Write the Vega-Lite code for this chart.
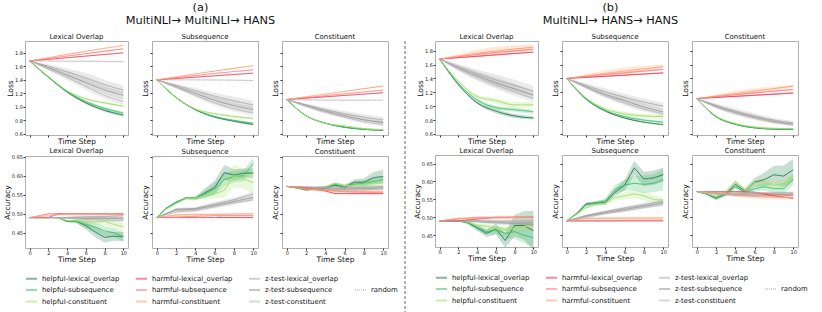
{
"$schema":"https://vega.github.io/schema/vega-lite/v6.json",
"padding":{"left":2,"right":2,"top":2,"bottom":0},
"spacing":6,
"resolve":{"legend":{"color":"independent","strokeDash":"independent"}},
"datasets":{
"nm":[{"s":"h1","n":"helpful-lexical_overlap"},{"s":"h2","n":"helpful-subsequence"},{"s":"h3","n":"helpful-constituent"},{"s":"x1","n":"harmful-lexical_overlap"},{"s":"x2","n":"harmful-subsequence"},{"s":"x3","n":"harmful-constituent"},{"s":"z1","n":"z-test-lexical_overlap"},{"s":"z2","n":"z-test-subsequence"},{"s":"z3","n":"z-test-constituent"},{"s":"r","n":"random"}],
"aL1":[
{"s":"h1","t":0,"v":1.68,"e":0},{"s":"h1","t":2,"v":1.44,"e":0.005},{"s":"h1","t":4,"v":1.22,"e":0.01},{"s":"h1","t":6,"v":1.06,"e":0.015},{"s":"h1","t":8,"v":0.95,"e":0.02},{"s":"h1","t":10,"v":0.88,"e":0.02},
{"s":"h2","t":0,"v":1.68,"e":0},{"s":"h2","t":2,"v":1.44,"e":0.005},{"s":"h2","t":4,"v":1.23,"e":0.01},{"s":"h2","t":6,"v":1.08,"e":0.015},{"s":"h2","t":8,"v":0.98,"e":0.02},{"s":"h2","t":10,"v":0.91,"e":0.02},
{"s":"h3","t":0,"v":1.68,"e":0},{"s":"h3","t":2,"v":1.45,"e":0.005},{"s":"h3","t":4,"v":1.24,"e":0.01},{"s":"h3","t":6,"v":1.12,"e":0.015},{"s":"h3","t":8,"v":1.06,"e":0.02},{"s":"h3","t":10,"v":1.01,"e":0.02},
{"s":"z1","t":0,"v":1.68,"e":0},{"s":"z1","t":2,"v":1.60,"e":0.03},{"s":"z1","t":4,"v":1.52,"e":0.05},{"s":"z1","t":6,"v":1.43,"e":0.07},{"s":"z1","t":8,"v":1.33,"e":0.07},{"s":"z1","t":10,"v":1.25,"e":0.07},
{"s":"z2","t":0,"v":1.68,"e":0},{"s":"z2","t":2,"v":1.58,"e":0.03},{"s":"z2","t":4,"v":1.47,"e":0.05},{"s":"z2","t":6,"v":1.36,"e":0.06},{"s":"z2","t":8,"v":1.25,"e":0.06},{"s":"z2","t":10,"v":1.17,"e":0.06},
{"s":"z3","t":0,"v":1.68,"e":0},{"s":"z3","t":2,"v":1.56,"e":0.02},{"s":"z3","t":4,"v":1.44,"e":0.04},{"s":"z3","t":6,"v":1.30,"e":0.05},{"s":"z3","t":8,"v":1.17,"e":0.05},{"s":"z3","t":10,"v":1.08,"e":0.05},
{"s":"x1","t":0,"v":1.68},{"s":"x1","t":5,"v":1.74},{"s":"x1","t":10,"v":1.80},
{"s":"x2","t":0,"v":1.68},{"s":"x2","t":5,"v":1.77},{"s":"x2","t":10,"v":1.86},
{"s":"x3","t":0,"v":1.68},{"s":"x3","t":5,"v":1.80},{"s":"x3","t":10,"v":1.91},
{"s":"r","t":0,"v":1.68,"e":0},{"s":"r","t":5,"v":1.675,"e":0.01},{"s":"r","t":10,"v":1.67,"e":0.01}],
"aL2":[
{"s":"h1","t":0,"v":1.40,"e":0},{"s":"h1","t":2,"v":1.14,"e":0.005},{"s":"h1","t":4,"v":0.96,"e":0.01},{"s":"h1","t":6,"v":0.85,"e":0.01},{"s":"h1","t":8,"v":0.79,"e":0.015},{"s":"h1","t":10,"v":0.74,"e":0.015},
{"s":"h2","t":0,"v":1.40,"e":0},{"s":"h2","t":2,"v":1.14,"e":0.005},{"s":"h2","t":4,"v":0.96,"e":0.01},{"s":"h2","t":6,"v":0.86,"e":0.01},{"s":"h2","t":8,"v":0.80,"e":0.015},{"s":"h2","t":10,"v":0.76,"e":0.015},
{"s":"h3","t":0,"v":1.40,"e":0},{"s":"h3","t":2,"v":1.14,"e":0.005},{"s":"h3","t":4,"v":0.97,"e":0.01},{"s":"h3","t":6,"v":0.90,"e":0.015},{"s":"h3","t":8,"v":0.86,"e":0.015},{"s":"h3","t":10,"v":0.83,"e":0.015},
{"s":"z1","t":0,"v":1.40,"e":0},{"s":"z1","t":2,"v":1.32,"e":0.02},{"s":"z1","t":4,"v":1.24,"e":0.04},{"s":"z1","t":6,"v":1.16,"e":0.05},{"s":"z1","t":8,"v":1.09,"e":0.06},{"s":"z1","t":10,"v":1.03,"e":0.06},
{"s":"z2","t":0,"v":1.40,"e":0},{"s":"z2","t":2,"v":1.30,"e":0.02},{"s":"z2","t":4,"v":1.20,"e":0.04},{"s":"z2","t":6,"v":1.10,"e":0.05},{"s":"z2","t":8,"v":1.02,"e":0.05},{"s":"z2","t":10,"v":0.96,"e":0.05},
{"s":"z3","t":0,"v":1.40,"e":0},{"s":"z3","t":2,"v":1.29,"e":0.02},{"s":"z3","t":4,"v":1.17,"e":0.03},{"s":"z3","t":6,"v":1.06,"e":0.04},{"s":"z3","t":8,"v":0.97,"e":0.04},{"s":"z3","t":10,"v":0.91,"e":0.04},
{"s":"x1","t":0,"v":1.40},{"s":"x1","t":5,"v":1.45},{"s":"x1","t":10,"v":1.50},
{"s":"x2","t":0,"v":1.40},{"s":"x2","t":5,"v":1.48},{"s":"x2","t":10,"v":1.55},
{"s":"x3","t":0,"v":1.40},{"s":"x3","t":5,"v":1.51},{"s":"x3","t":10,"v":1.61},
{"s":"r","t":0,"v":1.40,"e":0},{"s":"r","t":5,"v":1.40,"e":0.01},{"s":"r","t":10,"v":1.39,"e":0.01}],
"aL3":[
{"s":"h1","t":0,"v":1.11,"e":0},{"s":"h1","t":2,"v":0.87,"e":0.005},{"s":"h1","t":4,"v":0.76,"e":0.005},{"s":"h1","t":6,"v":0.70,"e":0.005},{"s":"h1","t":8,"v":0.67,"e":0.01},{"s":"h1","t":10,"v":0.655,"e":0.01},
{"s":"h2","t":0,"v":1.11,"e":0},{"s":"h2","t":2,"v":0.87,"e":0.005},{"s":"h2","t":4,"v":0.76,"e":0.005},{"s":"h2","t":6,"v":0.70,"e":0.005},{"s":"h2","t":8,"v":0.67,"e":0.01},{"s":"h2","t":10,"v":0.66,"e":0.01},
{"s":"h3","t":0,"v":1.11,"e":0},{"s":"h3","t":2,"v":0.87,"e":0.005},{"s":"h3","t":4,"v":0.76,"e":0.005},{"s":"h3","t":6,"v":0.72,"e":0.01},{"s":"h3","t":8,"v":0.68,"e":0.01},{"s":"h3","t":10,"v":0.665,"e":0.01},
{"s":"z1","t":0,"v":1.11,"e":0},{"s":"z1","t":2,"v":1.03,"e":0.02},{"s":"z1","t":4,"v":0.96,"e":0.03},{"s":"z1","t":6,"v":0.90,"e":0.04},{"s":"z1","t":8,"v":0.85,"e":0.04},{"s":"z1","t":10,"v":0.81,"e":0.04},
{"s":"z2","t":0,"v":1.11,"e":0},{"s":"z2","t":2,"v":1.02,"e":0.02},{"s":"z2","t":4,"v":0.94,"e":0.03},{"s":"z2","t":6,"v":0.87,"e":0.03},{"s":"z2","t":8,"v":0.81,"e":0.03},{"s":"z2","t":10,"v":0.77,"e":0.03},
{"s":"z3","t":0,"v":1.11,"e":0},{"s":"z3","t":2,"v":1.01,"e":0.02},{"s":"z3","t":4,"v":0.92,"e":0.02},{"s":"z3","t":6,"v":0.85,"e":0.03},{"s":"z3","t":8,"v":0.78,"e":0.03},{"s":"z3","t":10,"v":0.74,"e":0.03},
{"s":"x1","t":0,"v":1.11},{"s":"x1","t":5,"v":1.16},{"s":"x1","t":10,"v":1.21},
{"s":"x2","t":0,"v":1.11},{"s":"x2","t":5,"v":1.18},{"s":"x2","t":10,"v":1.25},
{"s":"x3","t":0,"v":1.11},{"s":"x3","t":5,"v":1.21},{"s":"x3","t":10,"v":1.31},
{"s":"r","t":0,"v":1.11,"e":0},{"s":"r","t":5,"v":1.10,"e":0.01},{"s":"r","t":10,"v":1.10,"e":0.01}],
"bL1":[
{"s":"h1","t":0,"v":1.68,"e":0},{"s":"h1","t":2,"v":1.31,"e":0.01},{"s":"h1","t":4,"v":1.05,"e":0.02},{"s":"h1","t":6,"v":0.93,"e":0.03},{"s":"h1","t":8,"v":0.86,"e":0.03},{"s":"h1","t":10,"v":0.83,"e":0.02},
{"s":"h2","t":0,"v":1.68,"e":0},{"s":"h2","t":2,"v":1.33,"e":0.01},{"s":"h2","t":4,"v":1.09,"e":0.02},{"s":"h2","t":6,"v":0.98,"e":0.03},{"s":"h2","t":8,"v":0.95,"e":0.03},{"s":"h2","t":10,"v":0.92,"e":0.03},
{"s":"h3","t":0,"v":1.68,"e":0},{"s":"h3","t":2,"v":1.36,"e":0.01},{"s":"h3","t":4,"v":1.14,"e":0.03},{"s":"h3","t":6,"v":1.08,"e":0.04},{"s":"h3","t":8,"v":1.02,"e":0.04},{"s":"h3","t":10,"v":1.02,"e":0.04},
{"s":"z1","t":0,"v":1.68,"e":0},{"s":"z1","t":2,"v":1.57,"e":0.04},{"s":"z1","t":4,"v":1.47,"e":0.06},{"s":"z1","t":6,"v":1.38,"e":0.08},{"s":"z1","t":8,"v":1.30,"e":0.08},{"s":"z1","t":10,"v":1.22,"e":0.07},
{"s":"z2","t":0,"v":1.68,"e":0},{"s":"z2","t":2,"v":1.55,"e":0.04},{"s":"z2","t":4,"v":1.44,"e":0.06},{"s":"z2","t":6,"v":1.34,"e":0.07},{"s":"z2","t":8,"v":1.25,"e":0.07},{"s":"z2","t":10,"v":1.16,"e":0.06},
{"s":"z3","t":0,"v":1.68,"e":0},{"s":"z3","t":2,"v":1.54,"e":0.03},{"s":"z3","t":4,"v":1.42,"e":0.05},{"s":"z3","t":6,"v":1.31,"e":0.06},{"s":"z3","t":8,"v":1.21,"e":0.06},{"s":"z3","t":10,"v":1.11,"e":0.05},
{"s":"x1","t":0,"v":1.68,"e":0},{"s":"x1","t":5,"v":1.73,"e":0.01},{"s":"x1","t":10,"v":1.78,"e":0.01},
{"s":"x2","t":0,"v":1.68,"e":0},{"s":"x2","t":5,"v":1.76,"e":0.01},{"s":"x2","t":10,"v":1.82,"e":0.01},
{"s":"x3","t":0,"v":1.68,"e":0},{"s":"x3","t":5,"v":1.78,"e":0.06},{"s":"x3","t":10,"v":1.85,"e":0.04}],
"bL2":[
{"s":"h1","t":0,"v":1.40,"e":0},{"s":"h1","t":2,"v":1.10,"e":0.005},{"s":"h1","t":4,"v":0.93,"e":0.01},{"s":"h1","t":6,"v":0.83,"e":0.01},{"s":"h1","t":8,"v":0.77,"e":0.01},{"s":"h1","t":10,"v":0.735,"e":0.01},
{"s":"h2","t":0,"v":1.40,"e":0},{"s":"h2","t":2,"v":1.11,"e":0.005},{"s":"h2","t":4,"v":0.94,"e":0.01},{"s":"h2","t":6,"v":0.85,"e":0.015},{"s":"h2","t":8,"v":0.80,"e":0.02},{"s":"h2","t":10,"v":0.77,"e":0.02},
{"s":"h3","t":0,"v":1.40,"e":0},{"s":"h3","t":2,"v":1.12,"e":0.01},{"s":"h3","t":4,"v":0.96,"e":0.02},{"s":"h3","t":6,"v":0.89,"e":0.03},{"s":"h3","t":8,"v":0.86,"e":0.03},{"s":"h3","t":10,"v":0.85,"e":0.03},
{"s":"z1","t":0,"v":1.40,"e":0},{"s":"z1","t":2,"v":1.30,"e":0.03},{"s":"z1","t":4,"v":1.21,"e":0.05},{"s":"z1","t":6,"v":1.13,"e":0.05},{"s":"z1","t":8,"v":1.06,"e":0.05},{"s":"z1","t":10,"v":1.00,"e":0.05},
{"s":"z2","t":0,"v":1.40,"e":0},{"s":"z2","t":2,"v":1.28,"e":0.03},{"s":"z2","t":4,"v":1.17,"e":0.04},{"s":"z2","t":6,"v":1.08,"e":0.05},{"s":"z2","t":8,"v":0.99,"e":0.05},{"s":"z2","t":10,"v":0.92,"e":0.04},
{"s":"z3","t":0,"v":1.40,"e":0},{"s":"z3","t":2,"v":1.27,"e":0.02},{"s":"z3","t":4,"v":1.15,"e":0.03},{"s":"z3","t":6,"v":1.05,"e":0.04},{"s":"z3","t":8,"v":0.96,"e":0.04},{"s":"z3","t":10,"v":0.89,"e":0.03},
{"s":"x1","t":0,"v":1.40,"e":0},{"s":"x1","t":5,"v":1.44,"e":0.01},{"s":"x1","t":10,"v":1.48,"e":0.01},
{"s":"x2","t":0,"v":1.40,"e":0},{"s":"x2","t":5,"v":1.47,"e":0.01},{"s":"x2","t":10,"v":1.53,"e":0.01},
{"s":"x3","t":0,"v":1.40,"e":0},{"s":"x3","t":5,"v":1.49,"e":0.05},{"s":"x3","t":10,"v":1.57,"e":0.03}],
"bL3":[
{"s":"h1","t":0,"v":1.11,"e":0},{"s":"h1","t":2,"v":0.85,"e":0.005},{"s":"h1","t":4,"v":0.74,"e":0.01},{"s":"h1","t":6,"v":0.69,"e":0.01},{"s":"h1","t":8,"v":0.67,"e":0.01},{"s":"h1","t":10,"v":0.665,"e":0.01},
{"s":"h2","t":0,"v":1.11,"e":0},{"s":"h2","t":2,"v":0.85,"e":0.005},{"s":"h2","t":4,"v":0.74,"e":0.01},{"s":"h2","t":6,"v":0.69,"e":0.01},{"s":"h2","t":8,"v":0.675,"e":0.01},{"s":"h2","t":10,"v":0.67,"e":0.01},
{"s":"h3","t":0,"v":1.11,"e":0},{"s":"h3","t":2,"v":0.86,"e":0.005},{"s":"h3","t":4,"v":0.75,"e":0.01},{"s":"h3","t":6,"v":0.70,"e":0.015},{"s":"h3","t":8,"v":0.68,"e":0.015},{"s":"h3","t":10,"v":0.675,"e":0.015},
{"s":"z1","t":0,"v":1.11,"e":0},{"s":"z1","t":2,"v":1.01,"e":0.03},{"s":"z1","t":4,"v":0.93,"e":0.04},{"s":"z1","t":6,"v":0.86,"e":0.04},{"s":"z1","t":8,"v":0.80,"e":0.03},{"s":"z1","t":10,"v":0.76,"e":0.03},
{"s":"z2","t":0,"v":1.11,"e":0},{"s":"z2","t":2,"v":1.00,"e":0.03},{"s":"z2","t":4,"v":0.91,"e":0.03},{"s":"z2","t":6,"v":0.84,"e":0.03},{"s":"z2","t":8,"v":0.78,"e":0.03},{"s":"z2","t":10,"v":0.74,"e":0.02},
{"s":"z3","t":0,"v":1.11,"e":0},{"s":"z3","t":2,"v":0.99,"e":0.02},{"s":"z3","t":4,"v":0.90,"e":0.03},{"s":"z3","t":6,"v":0.83,"e":0.03},{"s":"z3","t":8,"v":0.77,"e":0.02},{"s":"z3","t":10,"v":0.73,"e":0.02},
{"s":"x1","t":0,"v":1.11,"e":0},{"s":"x1","t":5,"v":1.15,"e":0.01},{"s":"x1","t":10,"v":1.19,"e":0.01},
{"s":"x2","t":0,"v":1.11,"e":0},{"s":"x2","t":5,"v":1.18,"e":0.01},{"s":"x2","t":10,"v":1.24,"e":0.01},
{"s":"x3","t":0,"v":1.11,"e":0},{"s":"x3","t":5,"v":1.20,"e":0.04},{"s":"x3","t":10,"v":1.29,"e":0.02}],
"aA1":[
{"s":"h1","t":0,"v":0.49,"e":0},{"s":"h1","t":1,"v":0.49,"e":0},{"s":"h1","t":2,"v":0.49,"e":0},{"s":"h1","t":3,"v":0.49,"e":0},{"s":"h1","t":4,"v":0.48,"e":0.002},{"s":"h1","t":5,"v":0.48,"e":0.004},{"s":"h1","t":6,"v":0.469,"e":0.01},{"s":"h1","t":7,"v":0.452,"e":0.014},{"s":"h1","t":8,"v":0.438,"e":0.014},{"s":"h1","t":9,"v":0.441,"e":0.012},{"s":"h1","t":10,"v":0.44,"e":0.012},
{"s":"h2","t":0,"v":0.49,"e":0},{"s":"h2","t":1,"v":0.49,"e":0},{"s":"h2","t":2,"v":0.49,"e":0},{"s":"h2","t":3,"v":0.49,"e":0},{"s":"h2","t":4,"v":0.48,"e":0.002},{"s":"h2","t":5,"v":0.48,"e":0.004},{"s":"h2","t":6,"v":0.472,"e":0.01},{"s":"h2","t":7,"v":0.465,"e":0.012},{"s":"h2","t":8,"v":0.455,"e":0.012},{"s":"h2","t":9,"v":0.45,"e":0.012},{"s":"h2","t":10,"v":0.44,"e":0.012},
{"s":"h3","t":0,"v":0.49,"e":0},{"s":"h3","t":1,"v":0.49,"e":0},{"s":"h3","t":2,"v":0.49,"e":0},{"s":"h3","t":3,"v":0.49,"e":0},{"s":"h3","t":4,"v":0.482,"e":0.002},{"s":"h3","t":5,"v":0.482,"e":0.003},{"s":"h3","t":6,"v":0.48,"e":0.006},{"s":"h3","t":7,"v":0.478,"e":0.008},{"s":"h3","t":8,"v":0.48,"e":0.01},{"s":"h3","t":9,"v":0.472,"e":0.01},{"s":"h3","t":10,"v":0.466,"e":0.01},
{"s":"z1","t":0,"v":0.49,"e":0},{"s":"z1","t":2,"v":0.49,"e":0.001},{"s":"z1","t":4,"v":0.49,"e":0.002},{"s":"z1","t":6,"v":0.492,"e":0.005},{"s":"z1","t":8,"v":0.493,"e":0.006},{"s":"z1","t":10,"v":0.495,"e":0.006},
{"s":"z2","t":0,"v":0.49,"e":0},{"s":"z2","t":2,"v":0.49,"e":0.001},{"s":"z2","t":4,"v":0.49,"e":0.002},{"s":"z2","t":6,"v":0.488,"e":0.004},{"s":"z2","t":8,"v":0.488,"e":0.005},{"s":"z2","t":10,"v":0.487,"e":0.005},
{"s":"z3","t":0,"v":0.49,"e":0},{"s":"z3","t":2,"v":0.49,"e":0.001},{"s":"z3","t":4,"v":0.488,"e":0.002},{"s":"z3","t":6,"v":0.485,"e":0.004},{"s":"z3","t":8,"v":0.483,"e":0.004},{"s":"z3","t":10,"v":0.482,"e":0.004},
{"s":"x1","t":0,"v":0.49},{"s":"x1","t":2,"v":0.49},{"s":"x1","t":3,"v":0.50},{"s":"x1","t":10,"v":0.50},
{"s":"x2","t":0,"v":0.49,"e":0},{"s":"x2","t":2,"v":0.50,"e":0.002},{"s":"x2","t":10,"v":0.50,"e":0.002},
{"s":"x3","t":0,"v":0.49},{"s":"x3","t":2,"v":0.495},{"s":"x3","t":4,"v":0.50},{"s":"x3","t":10,"v":0.50},
{"s":"r","t":0,"v":0.49},{"s":"r","t":10,"v":0.49}],
"aA2":[
{"s":"h1","t":0,"v":0.49,"e":0},{"s":"h1","t":1,"v":0.515,"e":0.002},{"s":"h1","t":2,"v":0.53,"e":0.003},{"s":"h1","t":3,"v":0.541,"e":0.003},{"s":"h1","t":4,"v":0.541,"e":0.004},{"s":"h1","t":5,"v":0.555,"e":0.012},{"s":"h1","t":6,"v":0.569,"e":0.018},{"s":"h1","t":7,"v":0.608,"e":0.02},{"s":"h1","t":8,"v":0.602,"e":0.015},{"s":"h1","t":9,"v":0.607,"e":0.012},{"s":"h1","t":10,"v":0.607,"e":0.012},
{"s":"h2","t":0,"v":0.49,"e":0},{"s":"h2","t":1,"v":0.515,"e":0.002},{"s":"h2","t":2,"v":0.53,"e":0.003},{"s":"h2","t":3,"v":0.541,"e":0.003},{"s":"h2","t":4,"v":0.541,"e":0.004},{"s":"h2","t":5,"v":0.552,"e":0.01},{"s":"h2","t":6,"v":0.565,"e":0.015},{"s":"h2","t":7,"v":0.59,"e":0.018},{"s":"h2","t":8,"v":0.598,"e":0.015},{"s":"h2","t":9,"v":0.60,"e":0.015},{"s":"h2","t":10,"v":0.632,"e":0.015},
{"s":"h3","t":0,"v":0.49,"e":0},{"s":"h3","t":1,"v":0.513,"e":0.002},{"s":"h3","t":2,"v":0.527,"e":0.003},{"s":"h3","t":3,"v":0.54,"e":0.003},{"s":"h3","t":4,"v":0.541,"e":0.005},{"s":"h3","t":5,"v":0.548,"e":0.01},{"s":"h3","t":6,"v":0.552,"e":0.012},{"s":"h3","t":7,"v":0.562,"e":0.02},{"s":"h3","t":8,"v":0.60,"e":0.03},{"s":"h3","t":9,"v":0.592,"e":0.025},{"s":"h3","t":10,"v":0.582,"e":0.03},
{"s":"z1","t":0,"v":0.49,"e":0},{"s":"z1","t":2,"v":0.512,"e":0.003},{"s":"z1","t":4,"v":0.514,"e":0.004},{"s":"z1","t":6,"v":0.526,"e":0.005},{"s":"z1","t":8,"v":0.537,"e":0.006},{"s":"z1","t":10,"v":0.552,"e":0.006},
{"s":"z2","t":0,"v":0.49,"e":0},{"s":"z2","t":2,"v":0.51,"e":0.003},{"s":"z2","t":4,"v":0.512,"e":0.004},{"s":"z2","t":6,"v":0.522,"e":0.005},{"s":"z2","t":8,"v":0.532,"e":0.005},{"s":"z2","t":10,"v":0.543,"e":0.005},
{"s":"z3","t":0,"v":0.49,"e":0},{"s":"z3","t":2,"v":0.505,"e":0.002},{"s":"z3","t":4,"v":0.508,"e":0.003},{"s":"z3","t":6,"v":0.518,"e":0.004},{"s":"z3","t":8,"v":0.528,"e":0.004},{"s":"z3","t":10,"v":0.537,"e":0.004},
{"s":"x1","t":0,"v":0.49},{"s":"x1","t":10,"v":0.49},
{"s":"x2","t":0,"v":0.49},{"s":"x2","t":6,"v":0.495},{"s":"x2","t":10,"v":0.495},
{"s":"x3","t":0,"v":0.49,"e":0},{"s":"x3","t":2,"v":0.497,"e":0.003},{"s":"x3","t":10,"v":0.50,"e":0.003},
{"s":"r","t":0,"v":0.49},{"s":"r","t":6,"v":0.49},{"s":"r","t":7,"v":0.495},{"s":"r","t":10,"v":0.495}],
"aA3":[
{"s":"h1","t":0,"v":0.572,"e":0},{"s":"h1","t":1,"v":0.568,"e":0.002},{"s":"h1","t":2,"v":0.563,"e":0.003},{"s":"h1","t":3,"v":0.565,"e":0.003},{"s":"h1","t":4,"v":0.568,"e":0.004},{"s":"h1","t":5,"v":0.575,"e":0.005},{"s":"h1","t":6,"v":0.57,"e":0.006},{"s":"h1","t":7,"v":0.583,"e":0.008},{"s":"h1","t":8,"v":0.583,"e":0.01},{"s":"h1","t":9,"v":0.595,"e":0.015},{"s":"h1","t":10,"v":0.598,"e":0.018},
{"s":"h2","t":0,"v":0.572,"e":0},{"s":"h2","t":1,"v":0.57,"e":0.002},{"s":"h2","t":2,"v":0.568,"e":0.002},{"s":"h2","t":3,"v":0.568,"e":0.003},{"s":"h2","t":4,"v":0.57,"e":0.003},{"s":"h2","t":5,"v":0.578,"e":0.004},{"s":"h2","t":6,"v":0.572,"e":0.005},{"s":"h2","t":7,"v":0.578,"e":0.006},{"s":"h2","t":8,"v":0.58,"e":0.008},{"s":"h2","t":9,"v":0.585,"e":0.01},{"s":"h2","t":10,"v":0.59,"e":0.01},
{"s":"h3","t":0,"v":0.572,"e":0},{"s":"h3","t":1,"v":0.57,"e":0.002},{"s":"h3","t":2,"v":0.567,"e":0.002},{"s":"h3","t":3,"v":0.567,"e":0.003},{"s":"h3","t":4,"v":0.57,"e":0.003},{"s":"h3","t":5,"v":0.58,"e":0.004},{"s":"h3","t":6,"v":0.574,"e":0.005},{"s":"h3","t":7,"v":0.575,"e":0.006},{"s":"h3","t":8,"v":0.578,"e":0.008},{"s":"h3","t":9,"v":0.58,"e":0.008},{"s":"h3","t":10,"v":0.582,"e":0.008},
{"s":"z1","t":0,"v":0.572,"e":0},{"s":"z1","t":2,"v":0.57,"e":0.002},{"s":"z1","t":4,"v":0.568,"e":0.003},{"s":"z1","t":6,"v":0.568,"e":0.004},{"s":"z1","t":8,"v":0.57,"e":0.004},{"s":"z1","t":10,"v":0.572,"e":0.004},
{"s":"z2","t":0,"v":0.572,"e":0},{"s":"z2","t":2,"v":0.568,"e":0.002},{"s":"z2","t":4,"v":0.565,"e":0.003},{"s":"z2","t":6,"v":0.565,"e":0.004},{"s":"z2","t":8,"v":0.566,"e":0.004},{"s":"z2","t":10,"v":0.568,"e":0.004},
{"s":"z3","t":0,"v":0.572,"e":0},{"s":"z3","t":2,"v":0.567,"e":0.002},{"s":"z3","t":4,"v":0.563,"e":0.003},{"s":"z3","t":6,"v":0.562,"e":0.004},{"s":"z3","t":8,"v":0.563,"e":0.004},{"s":"z3","t":10,"v":0.565,"e":0.004},
{"s":"x1","t":0,"v":0.572},{"s":"x1","t":2,"v":0.568},{"s":"x1","t":4,"v":0.56},{"s":"x1","t":5,"v":0.553},{"s":"x1","t":10,"v":0.553},
{"s":"x2","t":0,"v":0.572},{"s":"x2","t":3,"v":0.565},{"s":"x2","t":6,"v":0.558},{"s":"x2","t":10,"v":0.555},
{"s":"x3","t":0,"v":0.572,"e":0},{"s":"x3","t":2,"v":0.565,"e":0.004},{"s":"x3","t":5,"v":0.56,"e":0.005},{"s":"x3","t":10,"v":0.558,"e":0.005},
{"s":"r","t":0,"v":0.572},{"s":"r","t":10,"v":0.57}],
"bA1":[
{"s":"h1","t":0,"v":0.49,"e":0},{"s":"h1","t":1,"v":0.49,"e":0},{"s":"h1","t":2,"v":0.49,"e":0.002},{"s":"h1","t":3,"v":0.485,"e":0.004},{"s":"h1","t":4,"v":0.47,"e":0.008},{"s":"h1","t":5,"v":0.455,"e":0.01},{"s":"h1","t":6,"v":0.467,"e":0.015},{"s":"h1","t":7,"v":0.435,"e":0.02},{"s":"h1","t":8,"v":0.477,"e":0.03},{"s":"h1","t":9,"v":0.477,"e":0.04},{"s":"h1","t":10,"v":0.463,"e":0.055},
{"s":"h2","t":0,"v":0.49,"e":0},{"s":"h2","t":1,"v":0.49,"e":0},{"s":"h2","t":2,"v":0.49,"e":0.002},{"s":"h2","t":3,"v":0.485,"e":0.004},{"s":"h2","t":4,"v":0.472,"e":0.006},{"s":"h2","t":5,"v":0.46,"e":0.008},{"s":"h2","t":6,"v":0.465,"e":0.01},{"s":"h2","t":7,"v":0.455,"e":0.015},{"s":"h2","t":8,"v":0.46,"e":0.02},{"s":"h2","t":9,"v":0.45,"e":0.022},{"s":"h2","t":10,"v":0.443,"e":0.025},
{"s":"h3","t":0,"v":0.49,"e":0},{"s":"h3","t":1,"v":0.49,"e":0},{"s":"h3","t":2,"v":0.49,"e":0.002},{"s":"h3","t":3,"v":0.487,"e":0.003},{"s":"h3","t":4,"v":0.478,"e":0.005},{"s":"h3","t":5,"v":0.475,"e":0.006},{"s":"h3","t":6,"v":0.47,"e":0.008},{"s":"h3","t":7,"v":0.465,"e":0.01},{"s":"h3","t":8,"v":0.47,"e":0.012},{"s":"h3","t":9,"v":0.475,"e":0.014},{"s":"h3","t":10,"v":0.475,"e":0.015},
{"s":"z1","t":0,"v":0.49,"e":0},{"s":"z1","t":2,"v":0.49,"e":0.002},{"s":"z1","t":4,"v":0.49,"e":0.004},{"s":"z1","t":6,"v":0.488,"e":0.006},{"s":"z1","t":8,"v":0.487,"e":0.008},{"s":"z1","t":10,"v":0.485,"e":0.01},
{"s":"z2","t":0,"v":0.49,"e":0},{"s":"z2","t":2,"v":0.49,"e":0.002},{"s":"z2","t":4,"v":0.488,"e":0.003},{"s":"z2","t":6,"v":0.485,"e":0.005},{"s":"z2","t":8,"v":0.483,"e":0.006},{"s":"z2","t":10,"v":0.48,"e":0.008},
{"s":"z3","t":0,"v":0.49,"e":0},{"s":"z3","t":2,"v":0.49,"e":0.002},{"s":"z3","t":4,"v":0.489,"e":0.003},{"s":"z3","t":6,"v":0.487,"e":0.004},{"s":"z3","t":8,"v":0.486,"e":0.005},{"s":"z3","t":10,"v":0.49,"e":0.006},
{"s":"x1","t":0,"v":0.49},{"s":"x1","t":2,"v":0.49},{"s":"x1","t":4,"v":0.495},{"s":"x1","t":6,"v":0.50},{"s":"x1","t":10,"v":0.50},
{"s":"x2","t":0,"v":0.49},{"s":"x2","t":2,"v":0.495},{"s":"x2","t":4,"v":0.50},{"s":"x2","t":10,"v":0.50},
{"s":"x3","t":0,"v":0.49,"e":0},{"s":"x3","t":2,"v":0.497,"e":0.004},{"s":"x3","t":10,"v":0.50,"e":0.003},
{"s":"r","t":0,"v":0.49},{"s":"r","t":10,"v":0.49}],
"bA2":[
{"s":"h1","t":0,"v":0.49,"e":0},{"s":"h1","t":1,"v":0.51,"e":0.003},{"s":"h1","t":2,"v":0.537,"e":0.005},{"s":"h1","t":3,"v":0.54,"e":0.005},{"s":"h1","t":4,"v":0.542,"e":0.008},{"s":"h1","t":5,"v":0.57,"e":0.01},{"s":"h1","t":6,"v":0.59,"e":0.015},{"s":"h1","t":7,"v":0.638,"e":0.02},{"s":"h1","t":8,"v":0.607,"e":0.02},{"s":"h1","t":9,"v":0.61,"e":0.02},{"s":"h1","t":10,"v":0.619,"e":0.02},
{"s":"h2","t":0,"v":0.49,"e":0},{"s":"h2","t":1,"v":0.51,"e":0.003},{"s":"h2","t":2,"v":0.535,"e":0.005},{"s":"h2","t":3,"v":0.54,"e":0.005},{"s":"h2","t":4,"v":0.545,"e":0.008},{"s":"h2","t":5,"v":0.578,"e":0.012},{"s":"h2","t":6,"v":0.59,"e":0.015},{"s":"h2","t":7,"v":0.595,"e":0.02},{"s":"h2","t":8,"v":0.592,"e":0.025},{"s":"h2","t":9,"v":0.595,"e":0.025},{"s":"h2","t":10,"v":0.605,"e":0.03},
{"s":"h3","t":0,"v":0.49,"e":0},{"s":"h3","t":1,"v":0.508,"e":0.002},{"s":"h3","t":2,"v":0.527,"e":0.003},{"s":"h3","t":3,"v":0.535,"e":0.004},{"s":"h3","t":4,"v":0.54,"e":0.005},{"s":"h3","t":5,"v":0.555,"e":0.008},{"s":"h3","t":6,"v":0.56,"e":0.01},{"s":"h3","t":7,"v":0.565,"e":0.012},{"s":"h3","t":8,"v":0.56,"e":0.012},{"s":"h3","t":9,"v":0.55,"e":0.01},{"s":"h3","t":10,"v":0.548,"e":0.008},
{"s":"z1","t":0,"v":0.49,"e":0},{"s":"z1","t":2,"v":0.505,"e":0.003},{"s":"z1","t":4,"v":0.516,"e":0.004},{"s":"z1","t":6,"v":0.526,"e":0.005},{"s":"z1","t":8,"v":0.535,"e":0.006},{"s":"z1","t":10,"v":0.545,"e":0.006},
{"s":"z2","t":0,"v":0.49,"e":0},{"s":"z2","t":2,"v":0.503,"e":0.003},{"s":"z2","t":4,"v":0.513,"e":0.004},{"s":"z2","t":6,"v":0.522,"e":0.005},{"s":"z2","t":8,"v":0.531,"e":0.005},{"s":"z2","t":10,"v":0.54,"e":0.005},
{"s":"z3","t":0,"v":0.49,"e":0},{"s":"z3","t":2,"v":0.50,"e":0.002},{"s":"z3","t":4,"v":0.51,"e":0.003},{"s":"z3","t":6,"v":0.518,"e":0.004},{"s":"z3","t":8,"v":0.527,"e":0.004},{"s":"z3","t":10,"v":0.535,"e":0.004},
{"s":"x1","t":0,"v":0.49},{"s":"x1","t":10,"v":0.49},
{"s":"x2","t":0,"v":0.49},{"s":"x2","t":10,"v":0.492},
{"s":"x3","t":0,"v":0.49,"e":0},{"s":"x3","t":2,"v":0.497,"e":0.004},{"s":"x3","t":10,"v":0.498,"e":0.004},
{"s":"r","t":0,"v":0.49},{"s":"r","t":10,"v":0.49}],
"bA3":[
{"s":"h1","t":0,"v":0.572,"e":0},{"s":"h1","t":1,"v":0.565,"e":0.003},{"s":"h1","t":2,"v":0.553,"e":0.006},{"s":"h1","t":3,"v":0.565,"e":0.006},{"s":"h1","t":4,"v":0.592,"e":0.008},{"s":"h1","t":5,"v":0.573,"e":0.008},{"s":"h1","t":6,"v":0.598,"e":0.012},{"s":"h1","t":7,"v":0.605,"e":0.02},{"s":"h1","t":8,"v":0.619,"e":0.025},{"s":"h1","t":9,"v":0.615,"e":0.03},{"s":"h1","t":10,"v":0.633,"e":0.03},
{"s":"h2","t":0,"v":0.572,"e":0},{"s":"h2","t":1,"v":0.565,"e":0.002},{"s":"h2","t":2,"v":0.556,"e":0.004},{"s":"h2","t":3,"v":0.565,"e":0.005},{"s":"h2","t":4,"v":0.585,"e":0.006},{"s":"h2","t":5,"v":0.57,"e":0.006},{"s":"h2","t":6,"v":0.58,"e":0.008},{"s":"h2","t":7,"v":0.585,"e":0.01},{"s":"h2","t":8,"v":0.58,"e":0.012},{"s":"h2","t":9,"v":0.58,"e":0.014},{"s":"h2","t":10,"v":0.605,"e":0.015},
{"s":"h3","t":0,"v":0.572,"e":0},{"s":"h3","t":1,"v":0.566,"e":0.002},{"s":"h3","t":2,"v":0.558,"e":0.004},{"s":"h3","t":3,"v":0.57,"e":0.005},{"s":"h3","t":4,"v":0.60,"e":0.006},{"s":"h3","t":5,"v":0.575,"e":0.006},{"s":"h3","t":6,"v":0.595,"e":0.008},{"s":"h3","t":7,"v":0.60,"e":0.01},{"s":"h3","t":8,"v":0.59,"e":0.01},{"s":"h3","t":9,"v":0.595,"e":0.012},{"s":"h3","t":10,"v":0.61,"e":0.012},
{"s":"z1","t":0,"v":0.572,"e":0},{"s":"z1","t":2,"v":0.568,"e":0.003},{"s":"z1","t":4,"v":0.566,"e":0.004},{"s":"z1","t":6,"v":0.566,"e":0.004},{"s":"z1","t":8,"v":0.567,"e":0.004},{"s":"z1","t":10,"v":0.568,"e":0.004},
{"s":"z2","t":0,"v":0.572,"e":0},{"s":"z2","t":2,"v":0.566,"e":0.003},{"s":"z2","t":4,"v":0.563,"e":0.004},{"s":"z2","t":6,"v":0.562,"e":0.004},{"s":"z2","t":8,"v":0.563,"e":0.004},{"s":"z2","t":10,"v":0.564,"e":0.004},
{"s":"z3","t":0,"v":0.572,"e":0},{"s":"z3","t":2,"v":0.565,"e":0.003},{"s":"z3","t":4,"v":0.562,"e":0.004},{"s":"z3","t":6,"v":0.56,"e":0.004},{"s":"z3","t":8,"v":0.56,"e":0.004},{"s":"z3","t":10,"v":0.562,"e":0.004},
{"s":"x1","t":0,"v":0.572},{"s":"x1","t":4,"v":0.572},{"s":"x1","t":6,"v":0.57},{"s":"x1","t":8,"v":0.56},{"s":"x1","t":10,"v":0.553},
{"s":"x2","t":0,"v":0.572},{"s":"x2","t":5,"v":0.57},{"s":"x2","t":8,"v":0.565},{"s":"x2","t":10,"v":0.56},
{"s":"x3","t":0,"v":0.572,"e":0},{"s":"x3","t":3,"v":0.565,"e":0.005},{"s":"x3","t":6,"v":0.558,"e":0.006},{"s":"x3","t":10,"v":0.555,"e":0.006},
{"s":"r","t":0,"v":0.572},{"s":"r","t":10,"v":0.568}]
},
"hconcat":[
{"title":{"text":["(a)","MultiNLI→ MultiNLI→ HANS"],"fontSize":11.3,"lineHeight":13,"offset":6,"anchor":"middle"},
"spacing":0,
"vconcat":[
{"spacing":12,"hconcat":[
{"width":103,"height":94,"title":"Lexical Overlap","data":{"name":"aL1"},"transform":[{"lookup":"s","from":{"data":{"name":"nm"},"key":"s","fields":["n"]}}],
"encoding":{"x":{"field":"t","type":"quantitative","scale":{"domain":[-0.5,10.5],"nice":false},"axis":{"title":"Time Step","labels":false,"titlePadding":0,"values":[0,2,4,6,8,10]}},
"y":{"field":"v","type":"quantitative","scale":{"domain":[0.585,1.975],"nice":false,"zero":false},"axis":{"title":"Loss","values":[0.6,0.8,1.0,1.2,1.4,1.6,1.8],"format":".1f"}},
"color":{"field":"n","type":"nominal","scale":{"domain":["helpful-lexical_overlap","harmful-lexical_overlap","z-test-lexical_overlap"," ","helpful-subsequence","harmful-subsequence","z-test-subsequence","random","helpful-constituent","harmful-constituent","z-test-constituent"],"range":["#1f7a4d","#f0304c","#aaaaaa","rgba(0,0,0,0)","#3fbf6c","#ff7a7a","#999999","#b0b0b0","#a6df6c","#ffa06e","#bbbbbb"]},"legend":{"title":null}}},
"layer":[{"transform":[{"filter":"isValid(datum.e)"}],"mark":{"type":"errorband","interpolate":"monotone","opacity":0.25},"encoding":{"yError":{"field":"e"}}},
{"mark":{"type":"line","interpolate":"monotone","strokeWidth":1},"encoding":{"strokeDash":{"field":"n","type":"nominal","scale":{"domain":["helpful-lexical_overlap","harmful-lexical_overlap","z-test-lexical_overlap"," ","helpful-subsequence","harmful-subsequence","z-test-subsequence","random","helpful-constituent","harmful-constituent","z-test-constituent"],"range":[[1,0],[1,0],[1,0],[1,0],[1,0],[1,0],[1,0],[1,1],[1,0],[1,0],[1,0]]},"legend":{"title":null}}}}]},
{"width":106,"height":94,"title":"Subsequence","data":{"name":"aL2"},"transform":[{"lookup":"s","from":{"data":{"name":"nm"},"key":"s","fields":["n"]}}],
"encoding":{"x":{"field":"t","type":"quantitative","scale":{"domain":[-0.5,10.5],"nice":false},"axis":{"title":"Time Step","labels":false,"titlePadding":0,"values":[0,2,4,6,8,10]}},
"y":{"field":"v","type":"quantitative","scale":{"domain":[0.585,1.975],"nice":false,"zero":false},"axis":{"title":"Loss","labels":false,"values":[0.6,0.8,1.0,1.2,1.4,1.6,1.8]}},
"color":{"field":"n","type":"nominal","scale":{"domain":["helpful-lexical_overlap","harmful-lexical_overlap","z-test-lexical_overlap"," ","helpful-subsequence","harmful-subsequence","z-test-subsequence","random","helpful-constituent","harmful-constituent","z-test-constituent"],"range":["#1f7a4d","#f0304c","#aaaaaa","rgba(0,0,0,0)","#3fbf6c","#ff7a7a","#999999","#b0b0b0","#a6df6c","#ffa06e","#bbbbbb"]},"legend":{"title":null}}},
"layer":[{"transform":[{"filter":"isValid(datum.e)"}],"mark":{"type":"errorband","interpolate":"monotone","opacity":0.25},"encoding":{"yError":{"field":"e"}}},
{"mark":{"type":"line","interpolate":"monotone","strokeWidth":1},"encoding":{"strokeDash":{"field":"n","type":"nominal","scale":{"domain":["helpful-lexical_overlap","harmful-lexical_overlap","z-test-lexical_overlap"," ","helpful-subsequence","harmful-subsequence","z-test-subsequence","random","helpful-constituent","harmful-constituent","z-test-constituent"],"range":[[1,0],[1,0],[1,0],[1,0],[1,0],[1,0],[1,0],[1,1],[1,0],[1,0],[1,0]]},"legend":{"title":null}}}}]},
{"width":106,"height":94,"title":"Constituent","data":{"name":"aL3"},"transform":[{"lookup":"s","from":{"data":{"name":"nm"},"key":"s","fields":["n"]}}],
"encoding":{"x":{"field":"t","type":"quantitative","scale":{"domain":[-0.5,10.5],"nice":false},"axis":{"title":"Time Step","labels":false,"titlePadding":0,"values":[0,2,4,6,8,10]}},
"y":{"field":"v","type":"quantitative","scale":{"domain":[0.585,1.975],"nice":false,"zero":false},"axis":{"title":"Loss","labels":false,"values":[0.6,0.8,1.0,1.2,1.4,1.6,1.8]}},
"color":{"field":"n","type":"nominal","scale":{"domain":["helpful-lexical_overlap","harmful-lexical_overlap","z-test-lexical_overlap"," ","helpful-subsequence","harmful-subsequence","z-test-subsequence","random","helpful-constituent","harmful-constituent","z-test-constituent"],"range":["#1f7a4d","#f0304c","#aaaaaa","rgba(0,0,0,0)","#3fbf6c","#ff7a7a","#999999","#b0b0b0","#a6df6c","#ffa06e","#bbbbbb"]},"legend":{"title":null}}},
"layer":[{"transform":[{"filter":"isValid(datum.e)"}],"mark":{"type":"errorband","interpolate":"monotone","opacity":0.25},"encoding":{"yError":{"field":"e"}}},
{"mark":{"type":"line","interpolate":"monotone","strokeWidth":1},"encoding":{"strokeDash":{"field":"n","type":"nominal","scale":{"domain":["helpful-lexical_overlap","harmful-lexical_overlap","z-test-lexical_overlap"," ","helpful-subsequence","harmful-subsequence","z-test-subsequence","random","helpful-constituent","harmful-constituent","z-test-constituent"],"range":[[1,0],[1,0],[1,0],[1,0],[1,0],[1,0],[1,0],[1,1],[1,0],[1,0],[1,0]]},"legend":{"title":null}}}}]}
]},
{"spacing":12,"hconcat":[
{"width":103,"height":92,"title":"Lexical Overlap","data":{"name":"aA1"},"transform":[{"lookup":"s","from":{"data":{"name":"nm"},"key":"s","fields":["n"]}}],
"encoding":{"x":{"field":"t","type":"quantitative","scale":{"domain":[-0.5,10.5],"nice":false},"axis":{"title":"Time Step","labelPadding":0,"titlePadding":0,"values":[0,2,4,6,8,10]}},
"y":{"field":"v","type":"quantitative","scale":{"domain":[0.41,0.652],"nice":false,"zero":false},"axis":{"title":"Accuracy","values":[0.45,0.5,0.55,0.6,0.65],"format":".2f"}},
"color":{"field":"n","type":"nominal","scale":{"domain":["helpful-lexical_overlap","harmful-lexical_overlap","z-test-lexical_overlap"," ","helpful-subsequence","harmful-subsequence","z-test-subsequence","random","helpful-constituent","harmful-constituent","z-test-constituent"],"range":["#1f7a4d","#f0304c","#aaaaaa","rgba(0,0,0,0)","#3fbf6c","#ff7a7a","#999999","#b0b0b0","#a6df6c","#ffa06e","#bbbbbb"]},"legend":{"title":null}}},
"layer":[{"transform":[{"filter":"isValid(datum.e)"}],"mark":{"type":"errorband","opacity":0.25},"encoding":{"yError":{"field":"e"}}},
{"mark":{"type":"line","strokeWidth":1},"encoding":{"strokeDash":{"field":"n","type":"nominal","scale":{"domain":["helpful-lexical_overlap","harmful-lexical_overlap","z-test-lexical_overlap"," ","helpful-subsequence","harmful-subsequence","z-test-subsequence","random","helpful-constituent","harmful-constituent","z-test-constituent"],"range":[[1,0],[1,0],[1,0],[1,0],[1,0],[1,0],[1,0],[1,1],[1,0],[1,0],[1,0]]},"legend":{"title":null}}}}]},
{"width":106,"height":92,"title":"Subsequence","data":{"name":"aA2"},"transform":[{"lookup":"s","from":{"data":{"name":"nm"},"key":"s","fields":["n"]}}],
"encoding":{"x":{"field":"t","type":"quantitative","scale":{"domain":[-0.5,10.5],"nice":false},"axis":{"title":"Time Step","labelPadding":0,"titlePadding":0,"values":[0,2,4,6,8,10]}},
"y":{"field":"v","type":"quantitative","scale":{"domain":[0.41,0.652],"nice":false,"zero":false},"axis":{"title":"Accuracy","labels":false,"values":[0.45,0.5,0.55,0.6,0.65]}},
"color":{"field":"n","type":"nominal","scale":{"domain":["helpful-lexical_overlap","harmful-lexical_overlap","z-test-lexical_overlap"," ","helpful-subsequence","harmful-subsequence","z-test-subsequence","random","helpful-constituent","harmful-constituent","z-test-constituent"],"range":["#1f7a4d","#f0304c","#aaaaaa","rgba(0,0,0,0)","#3fbf6c","#ff7a7a","#999999","#b0b0b0","#a6df6c","#ffa06e","#bbbbbb"]},"legend":{"title":null}}},
"layer":[{"transform":[{"filter":"isValid(datum.e)"}],"mark":{"type":"errorband","opacity":0.25},"encoding":{"yError":{"field":"e"}}},
{"mark":{"type":"line","strokeWidth":1},"encoding":{"strokeDash":{"field":"n","type":"nominal","scale":{"domain":["helpful-lexical_overlap","harmful-lexical_overlap","z-test-lexical_overlap"," ","helpful-subsequence","harmful-subsequence","z-test-subsequence","random","helpful-constituent","harmful-constituent","z-test-constituent"],"range":[[1,0],[1,0],[1,0],[1,0],[1,0],[1,0],[1,0],[1,1],[1,0],[1,0],[1,0]]},"legend":{"title":null}}}}]},
{"width":106,"height":92,"title":"Constituent","data":{"name":"aA3"},"transform":[{"lookup":"s","from":{"data":{"name":"nm"},"key":"s","fields":["n"]}}],
"encoding":{"x":{"field":"t","type":"quantitative","scale":{"domain":[-0.5,10.5],"nice":false},"axis":{"title":"Time Step","labelPadding":0,"titlePadding":0,"values":[0,2,4,6,8,10]}},
"y":{"field":"v","type":"quantitative","scale":{"domain":[0.41,0.652],"nice":false,"zero":false},"axis":{"title":"Accuracy","labels":false,"values":[0.45,0.5,0.55,0.6,0.65]}},
"color":{"field":"n","type":"nominal","scale":{"domain":["helpful-lexical_overlap","harmful-lexical_overlap","z-test-lexical_overlap"," ","helpful-subsequence","harmful-subsequence","z-test-subsequence","random","helpful-constituent","harmful-constituent","z-test-constituent"],"range":["#1f7a4d","#f0304c","#aaaaaa","rgba(0,0,0,0)","#3fbf6c","#ff7a7a","#999999","#b0b0b0","#a6df6c","#ffa06e","#bbbbbb"]},"legend":{"title":null}}},
"layer":[{"transform":[{"filter":"isValid(datum.e)"}],"mark":{"type":"errorband","opacity":0.25},"encoding":{"yError":{"field":"e"}}},
{"mark":{"type":"line","strokeWidth":1},"encoding":{"strokeDash":{"field":"n","type":"nominal","scale":{"domain":["helpful-lexical_overlap","harmful-lexical_overlap","z-test-lexical_overlap"," ","helpful-subsequence","harmful-subsequence","z-test-subsequence","random","helpful-constituent","harmful-constituent","z-test-constituent"],"range":[[1,0],[1,0],[1,0],[1,0],[1,0],[1,0],[1,0],[1,1],[1,0],[1,0],[1,0]]},"legend":{"title":null}}}}]}
]}
]},
{"width":1,"height":278,"title":{"text":[" "," "],"fontSize":11.3,"lineHeight":13,"offset":6},"data":{"values":[{"k":0}]},"mark":{"type":"rule","strokeDash":[3,2],"color":"#666666","strokeWidth":1},"encoding":{"x":{"datum":0,"type":"quantitative","scale":{"domain":[0,1]},"axis":null}},"view":{"stroke":null}},
{"title":{"text":["(b)","MultiNLI→ HANS→ HANS"],"fontSize":11.3,"lineHeight":13,"offset":6,"anchor":"middle"},
"spacing":0,
"vconcat":[
{"spacing":12,"hconcat":[
{"width":103,"height":94,"title":"Lexical Overlap","data":{"name":"bL1"},"transform":[{"lookup":"s","from":{"data":{"name":"nm"},"key":"s","fields":["n"]}}],
"encoding":{"x":{"field":"t","type":"quantitative","scale":{"domain":[-0.5,10.5],"nice":false},"axis":{"title":"Time Step","labels":false,"titlePadding":0,"values":[0,2,4,6,8,10]}},
"y":{"field":"v","type":"quantitative","scale":{"domain":[0.585,1.94],"nice":false,"zero":false},"axis":{"title":"Loss","values":[0.6,0.8,1.0,1.2,1.4,1.6,1.8],"format":".1f"}},
"color":{"field":"n","type":"nominal","scale":{"domain":["helpful-lexical_overlap","harmful-lexical_overlap","z-test-lexical_overlap"," ","helpful-subsequence","harmful-subsequence","z-test-subsequence","random","helpful-constituent","harmful-constituent","z-test-constituent"],"range":["#1f7a4d","#f0304c","#aaaaaa","rgba(0,0,0,0)","#3fbf6c","#ff7a7a","#999999","#b0b0b0","#a6df6c","#ffa06e","#bbbbbb"]},"legend":{"title":null}}},
"layer":[{"transform":[{"filter":"isValid(datum.e)"}],"mark":{"type":"errorband","interpolate":"monotone","opacity":0.25},"encoding":{"yError":{"field":"e"}}},
{"mark":{"type":"line","interpolate":"monotone","strokeWidth":1},"encoding":{"strokeDash":{"field":"n","type":"nominal","scale":{"domain":["helpful-lexical_overlap","harmful-lexical_overlap","z-test-lexical_overlap"," ","helpful-subsequence","harmful-subsequence","z-test-subsequence","random","helpful-constituent","harmful-constituent","z-test-constituent"],"range":[[1,0],[1,0],[1,0],[1,0],[1,0],[1,0],[1,0],[1,1],[1,0],[1,0],[1,0]]},"legend":{"title":null}}}}]},
{"width":106,"height":94,"title":"Subsequence","data":{"name":"bL2"},"transform":[{"lookup":"s","from":{"data":{"name":"nm"},"key":"s","fields":["n"]}}],
"encoding":{"x":{"field":"t","type":"quantitative","scale":{"domain":[-0.5,10.5],"nice":false},"axis":{"title":"Time Step","labels":false,"titlePadding":0,"values":[0,2,4,6,8,10]}},
"y":{"field":"v","type":"quantitative","scale":{"domain":[0.585,1.94],"nice":false,"zero":false},"axis":{"title":"Loss","labels":false,"values":[0.6,0.8,1.0,1.2,1.4,1.6,1.8]}},
"color":{"field":"n","type":"nominal","scale":{"domain":["helpful-lexical_overlap","harmful-lexical_overlap","z-test-lexical_overlap"," ","helpful-subsequence","harmful-subsequence","z-test-subsequence","random","helpful-constituent","harmful-constituent","z-test-constituent"],"range":["#1f7a4d","#f0304c","#aaaaaa","rgba(0,0,0,0)","#3fbf6c","#ff7a7a","#999999","#b0b0b0","#a6df6c","#ffa06e","#bbbbbb"]},"legend":{"title":null}}},
"layer":[{"transform":[{"filter":"isValid(datum.e)"}],"mark":{"type":"errorband","interpolate":"monotone","opacity":0.25},"encoding":{"yError":{"field":"e"}}},
{"mark":{"type":"line","interpolate":"monotone","strokeWidth":1},"encoding":{"strokeDash":{"field":"n","type":"nominal","scale":{"domain":["helpful-lexical_overlap","harmful-lexical_overlap","z-test-lexical_overlap"," ","helpful-subsequence","harmful-subsequence","z-test-subsequence","random","helpful-constituent","harmful-constituent","z-test-constituent"],"range":[[1,0],[1,0],[1,0],[1,0],[1,0],[1,0],[1,0],[1,1],[1,0],[1,0],[1,0]]},"legend":{"title":null}}}}]},
{"width":106,"height":94,"title":"Constituent","data":{"name":"bL3"},"transform":[{"lookup":"s","from":{"data":{"name":"nm"},"key":"s","fields":["n"]}}],
"encoding":{"x":{"field":"t","type":"quantitative","scale":{"domain":[-0.5,10.5],"nice":false},"axis":{"title":"Time Step","labels":false,"titlePadding":0,"values":[0,2,4,6,8,10]}},
"y":{"field":"v","type":"quantitative","scale":{"domain":[0.585,1.94],"nice":false,"zero":false},"axis":{"title":"Loss","labels":false,"values":[0.6,0.8,1.0,1.2,1.4,1.6,1.8]}},
"color":{"field":"n","type":"nominal","scale":{"domain":["helpful-lexical_overlap","harmful-lexical_overlap","z-test-lexical_overlap"," ","helpful-subsequence","harmful-subsequence","z-test-subsequence","random","helpful-constituent","harmful-constituent","z-test-constituent"],"range":["#1f7a4d","#f0304c","#aaaaaa","rgba(0,0,0,0)","#3fbf6c","#ff7a7a","#999999","#b0b0b0","#a6df6c","#ffa06e","#bbbbbb"]},"legend":{"title":null}}},
"layer":[{"transform":[{"filter":"isValid(datum.e)"}],"mark":{"type":"errorband","interpolate":"monotone","opacity":0.25},"encoding":{"yError":{"field":"e"}}},
{"mark":{"type":"line","interpolate":"monotone","strokeWidth":1},"encoding":{"strokeDash":{"field":"n","type":"nominal","scale":{"domain":["helpful-lexical_overlap","harmful-lexical_overlap","z-test-lexical_overlap"," ","helpful-subsequence","harmful-subsequence","z-test-subsequence","random","helpful-constituent","harmful-constituent","z-test-constituent"],"range":[[1,0],[1,0],[1,0],[1,0],[1,0],[1,0],[1,0],[1,1],[1,0],[1,0],[1,0]]},"legend":{"title":null}}}}]}
]},
{"spacing":12,"hconcat":[
{"width":103,"height":92,"title":"Lexical Overlap","data":{"name":"bA1"},"transform":[{"lookup":"s","from":{"data":{"name":"nm"},"key":"s","fields":["n"]}}],
"encoding":{"x":{"field":"t","type":"quantitative","scale":{"domain":[-0.5,10.5],"nice":false},"axis":{"title":"Time Step","labelPadding":0,"titlePadding":0,"values":[0,2,4,6,8,10]}},
"y":{"field":"v","type":"quantitative","scale":{"domain":[0.417,0.674],"nice":false,"zero":false},"axis":{"title":"Accuracy","values":[0.45,0.5,0.55,0.6,0.65],"format":".2f"}},
"color":{"field":"n","type":"nominal","scale":{"domain":["helpful-lexical_overlap","harmful-lexical_overlap","z-test-lexical_overlap"," ","helpful-subsequence","harmful-subsequence","z-test-subsequence","random","helpful-constituent","harmful-constituent","z-test-constituent"],"range":["#1f7a4d","#f0304c","#aaaaaa","rgba(0,0,0,0)","#3fbf6c","#ff7a7a","#999999","#b0b0b0","#a6df6c","#ffa06e","#bbbbbb"]},"legend":{"title":null}}},
"layer":[{"transform":[{"filter":"isValid(datum.e)"}],"mark":{"type":"errorband","opacity":0.25},"encoding":{"yError":{"field":"e"}}},
{"mark":{"type":"line","strokeWidth":1},"encoding":{"strokeDash":{"field":"n","type":"nominal","scale":{"domain":["helpful-lexical_overlap","harmful-lexical_overlap","z-test-lexical_overlap"," ","helpful-subsequence","harmful-subsequence","z-test-subsequence","random","helpful-constituent","harmful-constituent","z-test-constituent"],"range":[[1,0],[1,0],[1,0],[1,0],[1,0],[1,0],[1,0],[1,1],[1,0],[1,0],[1,0]]},"legend":{"title":null}}}}]},
{"width":106,"height":92,"title":"Subsequence","data":{"name":"bA2"},"transform":[{"lookup":"s","from":{"data":{"name":"nm"},"key":"s","fields":["n"]}}],
"encoding":{"x":{"field":"t","type":"quantitative","scale":{"domain":[-0.5,10.5],"nice":false},"axis":{"title":"Time Step","labelPadding":0,"titlePadding":0,"values":[0,2,4,6,8,10]}},
"y":{"field":"v","type":"quantitative","scale":{"domain":[0.417,0.674],"nice":false,"zero":false},"axis":{"title":"Accuracy","labels":false,"values":[0.45,0.5,0.55,0.6,0.65]}},
"color":{"field":"n","type":"nominal","scale":{"domain":["helpful-lexical_overlap","harmful-lexical_overlap","z-test-lexical_overlap"," ","helpful-subsequence","harmful-subsequence","z-test-subsequence","random","helpful-constituent","harmful-constituent","z-test-constituent"],"range":["#1f7a4d","#f0304c","#aaaaaa","rgba(0,0,0,0)","#3fbf6c","#ff7a7a","#999999","#b0b0b0","#a6df6c","#ffa06e","#bbbbbb"]},"legend":{"title":null}}},
"layer":[{"transform":[{"filter":"isValid(datum.e)"}],"mark":{"type":"errorband","opacity":0.25},"encoding":{"yError":{"field":"e"}}},
{"mark":{"type":"line","strokeWidth":1},"encoding":{"strokeDash":{"field":"n","type":"nominal","scale":{"domain":["helpful-lexical_overlap","harmful-lexical_overlap","z-test-lexical_overlap"," ","helpful-subsequence","harmful-subsequence","z-test-subsequence","random","helpful-constituent","harmful-constituent","z-test-constituent"],"range":[[1,0],[1,0],[1,0],[1,0],[1,0],[1,0],[1,0],[1,1],[1,0],[1,0],[1,0]]},"legend":{"title":null}}}}]},
{"width":106,"height":92,"title":"Constituent","data":{"name":"bA3"},"transform":[{"lookup":"s","from":{"data":{"name":"nm"},"key":"s","fields":["n"]}}],
"encoding":{"x":{"field":"t","type":"quantitative","scale":{"domain":[-0.5,10.5],"nice":false},"axis":{"title":"Time Step","labelPadding":0,"titlePadding":0,"values":[0,2,4,6,8,10]}},
"y":{"field":"v","type":"quantitative","scale":{"domain":[0.417,0.674],"nice":false,"zero":false},"axis":{"title":"Accuracy","labels":false,"values":[0.45,0.5,0.55,0.6,0.65]}},
"color":{"field":"n","type":"nominal","scale":{"domain":["helpful-lexical_overlap","harmful-lexical_overlap","z-test-lexical_overlap"," ","helpful-subsequence","harmful-subsequence","z-test-subsequence","random","helpful-constituent","harmful-constituent","z-test-constituent"],"range":["#1f7a4d","#f0304c","#aaaaaa","rgba(0,0,0,0)","#3fbf6c","#ff7a7a","#999999","#b0b0b0","#a6df6c","#ffa06e","#bbbbbb"]},"legend":{"title":null}}},
"layer":[{"transform":[{"filter":"isValid(datum.e)"}],"mark":{"type":"errorband","opacity":0.25},"encoding":{"yError":{"field":"e"}}},
{"mark":{"type":"line","strokeWidth":1},"encoding":{"strokeDash":{"field":"n","type":"nominal","scale":{"domain":["helpful-lexical_overlap","harmful-lexical_overlap","z-test-lexical_overlap"," ","helpful-subsequence","harmful-subsequence","z-test-subsequence","random","helpful-constituent","harmful-constituent","z-test-constituent"],"range":[[1,0],[1,0],[1,0],[1,0],[1,0],[1,0],[1,0],[1,1],[1,0],[1,0],[1,0]]},"legend":{"title":null}}}}]}
]}
]}
],
"config":{
"font":"DejaVu Sans",
"view":{"stroke":"#b0b0b0","strokeWidth":1},
"axis":{"grid":false,"domain":false,"tickSize":2,"tickColor":"#333333","labelFontSize":5,"labelColor":"#222222","titleFontSize":7.5,"titleFontWeight":"normal","titleColor":"#111111","labelPadding":1,"titlePadding":1},
"axisY":{"titlePadding":0,"labelPadding":0.5},
"title":{"fontSize":7,"fontWeight":"normal","offset":1,"color":"#111111"},
"legend":{"orient":"bottom","columns":4,"gridAlign":"each","symbolType":"stroke","symbolSize":120,"symbolStrokeWidth":2,"symbolOpacity":0.55,"labelFontSize":6.9,"labelColor":"#111111","rowPadding":0.5,"columnPadding":12,"offset":9,"labelOffset":4}
}
}
